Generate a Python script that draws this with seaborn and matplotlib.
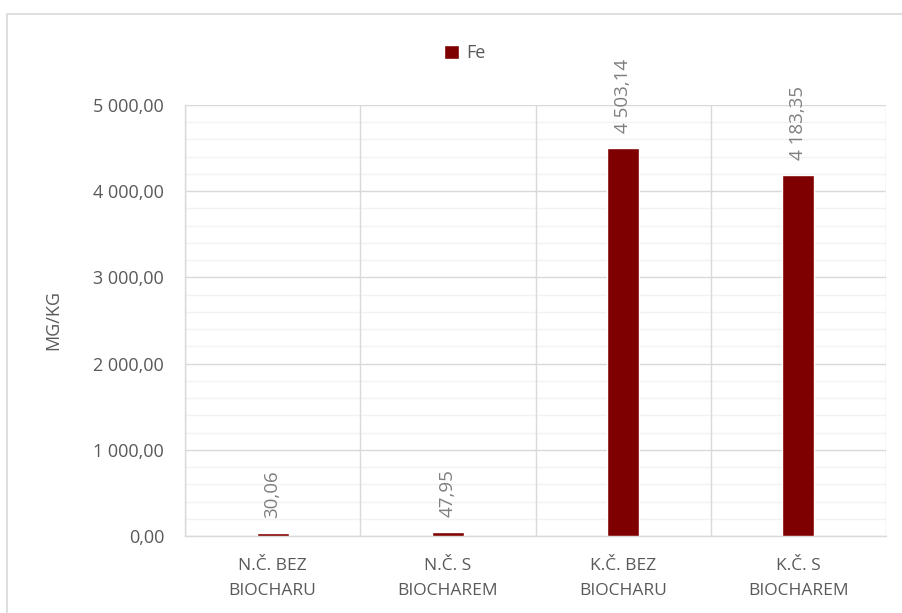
import matplotlib
matplotlib.use("Agg")
import matplotlib.pyplot as plt
from matplotlib.patches import Rectangle
from matplotlib.ticker import MultipleLocator, FuncFormatter
import seaborn as sns

# Iron content per soil variant
categories = ["N.Č. BEZ\nBIOCHARU", "N.Č. S\nBIOCHAREM", "K.Č. BEZ\nBIOCHARU", "K.Č. S\nBIOCHAREM"]
fe_values = [30.06, 47.95, 4503.14, 4183.35]
series_name = "Fe"
y_label = "MG/KG"

BAR_COLOR = "#7F0000"
GRID_MAJOR = "#D9D9D9"
GRID_MINOR = "#F2F2F2"
TEXT_DARK = "#595959"
TEXT_LIGHT = "#7F7F7F"

sns.set_style("white")
plt.rcParams["font.family"] = ["Open Sans", "DejaVu Sans"]


def cz_number(v, pos=None):
    return f"{v:,.2f}".replace(",", " ").replace(".", ",")


W, H = 902, 613
fig = plt.figure(figsize=(W / 100, H / 100), dpi=100)
ax = fig.add_axes([185 / W, 1 - 536 / H, (886 - 185) / W, (536 - 105) / H])

sns.barplot(x=categories, y=fe_values, color=BAR_COLOR, width=0.183,
            saturation=1, label=series_name, ax=ax, zorder=3)

ax.set_xlim(-0.5, len(categories) - 0.5)
ax.set_ylim(0, 5000)
ax.yaxis.set_major_locator(MultipleLocator(1000))
ax.yaxis.set_minor_locator(MultipleLocator(200))
ax.yaxis.set_major_formatter(FuncFormatter(cz_number))

ax.grid(False)
ax.grid(axis="y", which="major", color=GRID_MAJOR, linewidth=1.0, zorder=1)
ax.grid(axis="y", which="minor", color=GRID_MINOR, linewidth=1.0, zorder=0)
for xb in [i - 0.5 for i in range(len(categories) + 1)]:
    ax.axvline(xb, color=GRID_MAJOR, linewidth=1.0, zorder=1)

for side in ["top", "right"]:
    ax.spines[side].set_visible(False)
for side in ["left", "bottom"]:
    ax.spines[side].set_color(GRID_MAJOR)
    ax.spines[side].set_linewidth(1.0)

ax.tick_params(axis="y", which="major", direction="out", length=5, width=1,
               color=GRID_MAJOR, labelcolor=TEXT_DARK, labelsize=13, pad=10)
ax.tick_params(axis="y", which="minor", length=0)
ax.tick_params(axis="x", length=0, labelcolor=TEXT_DARK, labelsize=12.5, pad=16)
for lbl in ax.get_xticklabels():
    lbl.set_linespacing(1.75)
    lbl.set_fontstretch("expanded")

ax.set_xlabel("")
ax.set_ylabel(y_label, color=TEXT_DARK, fontsize=13, labelpad=22)

# value labels above each bar
for i, v in enumerate(fe_values):
    ax.annotate(cz_number(v), xy=(i, v), xytext=(0, 11), textcoords="offset points",
                rotation=90, ha="center", va="bottom", color=TEXT_LIGHT,
                fontsize=13.5, zorder=4)

leg = ax.legend(loc="center", bbox_to_anchor=(465 / W, 1 - 53 / H),
                bbox_transform=fig.transFigure, frameon=False, fontsize=13,
                handlelength=0.8, handleheight=0.8, handletextpad=0.4)
for t in leg.get_texts():
    t.set_color(TEXT_DARK)

# chart frame
fig.patches.append(Rectangle((7 / W, -0.1), 2, 1.1 - 14 / H, transform=fig.transFigure,
                             fill=False, edgecolor=GRID_MAJOR, linewidth=1.2))

fig.savefig("out.png", dpi=100)
